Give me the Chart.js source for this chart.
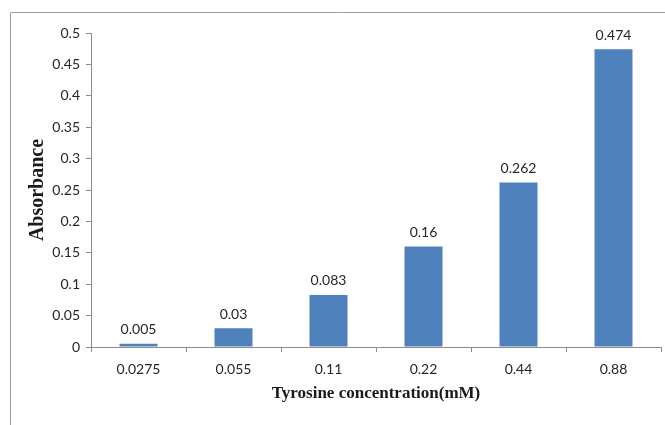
<!DOCTYPE html>
<html>
<head>
<meta charset="utf-8">
<script src="https://cdn.jsdelivr.net/npm/chart.js@4/dist/chart.umd.min.js"></script>
<style>
  html, body { margin: 0; padding: 0; background: #fff; }
  #wrap { width: 665px; height: 425px; position: relative; }
</style>
</head>
<body>
<div id="wrap"><canvas id="absChart"></canvas></div>
<script>
// Tyrosine standard curve
const concentrations = ['0.0275', '0.055', '0.11', '0.22', '0.44', '0.88'];
const absorbance = [0.005, 0.03, 0.083, 0.16, 0.262, 0.474];

const tickFont = { family: 'Lato, "Open Sans", sans-serif', size: 14 };
const serif = '"Liberation Serif", "Times New Roman", serif';

// thin frame around the whole chart
const framePlugin = {
  id: 'frame',
  beforeDraw(chart) {
    const ctx = chart.ctx;
    ctx.save();
    ctx.strokeStyle = '#a0a0a0';
    ctx.lineWidth = 1;
    ctx.beginPath();
    ctx.moveTo(10.5, chart.height);
    ctx.lineTo(10.5, 12.5);
    ctx.lineTo(chart.width, 12.5);
    ctx.stroke();
    ctx.restore();
  }
};

// value labels above each bar
const valueLabels = {
  id: 'valueLabels',
  afterDatasetsDraw(chart) {
    const ctx = chart.ctx;
    const meta = chart.getDatasetMeta(0);
    ctx.save();
    ctx.font = '14px ' + tickFont.family;
    ctx.fillStyle = '#262626';
    ctx.textAlign = 'center';
    ctx.textBaseline = 'bottom';
    meta.data.forEach((bar, i) => {
      ctx.fillText(String(absorbance[i]), bar.x, bar.y - 7);
    });
    ctx.restore();
  }
};

new Chart(document.getElementById('absChart').getContext('2d'), {
  type: 'bar',
  data: {
    labels: concentrations,
    datasets: [{
      data: absorbance,
      backgroundColor: '#4f81bd',
      borderWidth: 0,
      barPercentage: 0.4,
      categoryPercentage: 1.0
    }]
  },
  options: {
    responsive: true,
    maintainAspectRatio: false,
    animation: false,
    layout: { padding: { top: 33, right: 4, bottom: 0, left: 0 } },
    plugins: {
      legend: { display: false },
      tooltip: { enabled: false }
    },
    scales: {
      x: {
        afterFit(scale) { scale.height = 78; },
        grid: { drawOnChartArea: false, offset: true, tickLength: 5, color: '#8c8c8c' },
        border: { color: '#8c8c8c' },
        ticks: { color: '#262626', font: tickFont, padding: 9, maxRotation: 0 },
        title: {
          display: true,
          text: 'Tyrosine concentration(mM)',
          color: '#1a1a1a',
          font: { family: serif, size: 17, weight: 'bold' },
          padding: { top: 0, bottom: 21 }
        }
      },
      y: {
        min: 0,
        max: 0.5,
        afterFit(scale) { scale.width = 91; },
        grid: { drawOnChartArea: false, tickLength: 5, color: '#8c8c8c' },
        border: { color: '#8c8c8c' },
        ticks: { stepSize: 0.05, color: '#262626', font: tickFont, padding: 6,
          callback: v => String(Math.round(v * 100) / 100) },
        title: {
          display: true,
          text: 'Absorbance',
          color: '#1a1a1a',
          font: { family: serif, size: 20, weight: 'bold' },
          padding: { top: 26, bottom: 0 }
        }
      }
    }
  },
  plugins: [framePlugin, valueLabels]
});
</script>
</body>
</html>
